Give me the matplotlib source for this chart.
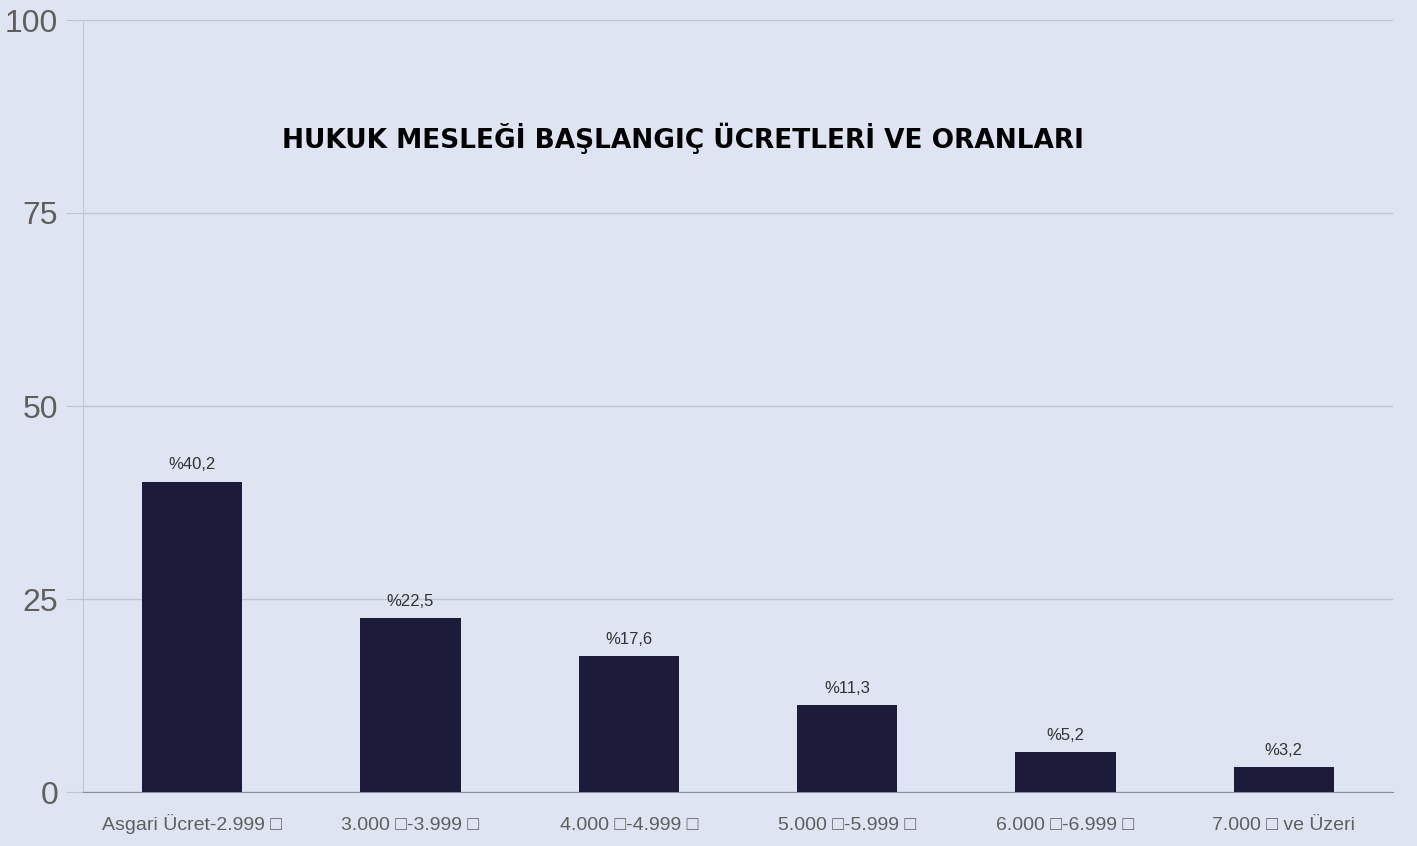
import matplotlib
matplotlib.use('Agg')
import matplotlib.pyplot as plt

# veriler
kategoriler = ['Asgari Ücret-2.999 \u25a1', '3.000 \u25a1-3.999 \u25a1', '4.000 \u25a1-4.999 \u25a1',
               '5.000 \u25a1-5.999 \u25a1', '6.000 \u25a1-6.999 \u25a1', '7.000 \u25a1 ve Üzeri']
oranlar = [40.2, 22.5, 17.6, 11.3, 5.2, 3.2]
etiketler = ['%40,2', '%22,5', '%17,6', '%11,3', '%5,2', '%3,2']
y_ticks = [0, 25, 50, 75, 100]

bg = '#dfe4f2'
fig = plt.figure(figsize=(14.17, 8.46), dpi=100, facecolor=bg)
ax = fig.add_axes([83 / 1417, 1 - 792 / 846, 1310 / 1417, 772 / 846])
ax.set_facecolor(bg)

x = range(len(kategoriler))
ax.bar(x, oranlar, width=0.46, color='#1c1b3a', zorder=3)
for i, (v, t) in enumerate(zip(oranlar, etiketler)):
    ax.text(i, v + 1.2, t, ha='center', va='bottom', fontsize=12,
            family='Liberation Sans', color='#333333')

ax.set_xlim(-0.5, 5.5)
ax.set_ylim(0, 100)
ax.set_yticks(y_ticks)
ax.set_yticklabels([str(v) for v in y_ticks], fontsize=23, family='Liberation Sans', color='#5f5f5f')
ax.set_xticks(list(x))
ax.set_xticklabels(kategoriler, fontsize=14, family=['Liberation Sans', 'DejaVu Sans'], color='#5f5f5f')
for lbl in ax.get_xticklabels():
    lbl.set_va('baseline')
ax.tick_params(axis='y', length=12, color='#c0c5d6', pad=6)
ax.tick_params(axis='x', length=0, pad=27)
ax.grid(axis='y', color='#c0c5d6', linewidth=1, zorder=0)

for s in ['top', 'right']:
    ax.spines[s].set_visible(False)
ax.spines['left'].set_color('#c4c9da')
ax.spines['bottom'].set_color('#8a8fa0')

fig.text(683 / 1417, 1 - 138 / 846, 'HUKUK MESLEĞİ BAŞLANGIÇ ÜCRETLERİ VE ORANLARI',
         ha='center', va='center', fontsize=19, fontweight='bold', color='black',
         family='DejaVu Sans')

fig.savefig('out.png', dpi=100, facecolor=bg)
